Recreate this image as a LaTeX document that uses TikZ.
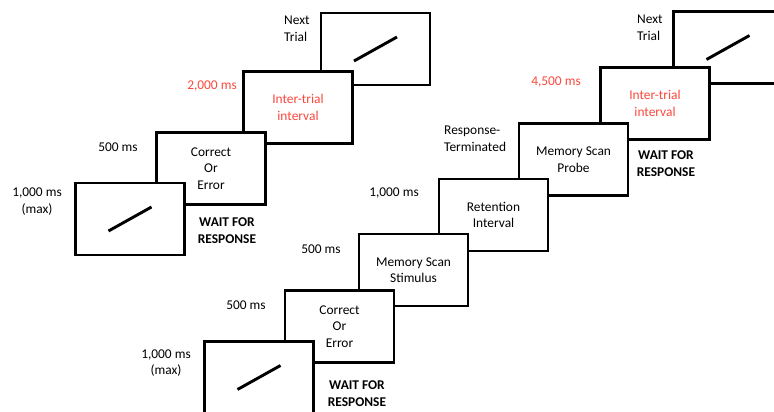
\documentclass[tikz,border=0pt]{standalone}
\usepackage{fontspec}
\setmainfont{Carlito}
\definecolor{itired}{RGB}{250,72,60}
\begin{document}
\begin{tikzpicture}[x=1pt,y=-1pt,
  screen/.style={draw=black,fill=white,line width=2.9pt,minimum width=109pt,minimum height=72pt,inner sep=0pt,align=center,font=\fontsize{13.4}{16.6}\selectfont},
  lbl/.style={inner sep=0pt,align=center,font=\fontsize{13.4}{16.6}\selectfont},
  lbll/.style={inner sep=0pt,align=left,anchor=west,font=\fontsize{13.4}{16.6}\selectfont},
  wait/.style={inner sep=0pt,align=center,font=\fontsize{13.4}{16.8}\selectfont\bfseries},
  red/.style={text=itired},
  slash/.style={line width=2.9pt}]
\useasboundingbox (0,0) rectangle (774,412);
\clip (0,0) rectangle (774,412);
% left sequence (back to front)
\node[screen] (l4) at (375.5,49) {};
\draw[slash] (l4.center) ++(-21.5,12) -- ++(43,-24);
\node[screen,red] (l3) at (298,107.5) {Inter-trial\\interval};
\node[screen] (l2) at (211,168.5) {Correct\\Or\\Error};
\node[screen] (l1) at (130,219) {};
\draw[slash] (l1.center) ++(-21.5,12) -- ++(43,-24);
% right sequence (back to front)
\node[screen] (rg) at (728,47.5) {};
\draw[slash] (rg.center) ++(-21.5,12) -- ++(43,-24);
\node[screen,red] (rf) at (655,103.5) {Inter-trial\\interval};
\node[screen] (re) at (573.5,159.5) {Memory Scan\\Probe};
\node[screen] (rd) at (493.5,215) {Retention\\Interval};
\node[screen] (rc) at (413.5,270) {Memory Scan\\Stimulus};
\node[screen] (rb) at (339.5,326.5) {Correct\\Or\\Error};
\node[screen] (ra) at (259,377.5) {};
\draw[slash] (ra.center) ++(-21.5,12) -- ++(43,-24);
% left labels
\node[lbl] (t1) at (37,201.5) {1,000 ms\\(max)};
\node[lbl] (t2) at (118,147) {500 ms};
\node[lbl,red] (t3) at (212,86) {2,000 ms};
\node[lbll] (t4) at (284,29) {Next\\Trial};
\node[wait] (w1) at (227,230.5) {WAIT FOR\\RESPONSE};
% right labels
\node[lbl] (u1) at (166,363) {1,000 ms\\(max)};
\node[lbl] (u2) at (246,305) {500 ms};
\node[lbl] (u3) at (321,249) {500 ms};
\node[lbl] (u4) at (394,193) {1,000 ms};
\node[lbll] (u5) at (444,138.5) {Response-\\Terminated};
\node[lbl,red] (u6) at (556,82) {4,500 ms};
\node[lbll] (u7) at (637,27.5) {Next\\Trial};
\node[wait] (w2) at (666,163.5) {WAIT FOR\\RESPONSE};
\node[wait] (w3) at (357,394) {WAIT FOR\\RESPONSE};
\end{tikzpicture}
\end{document}
